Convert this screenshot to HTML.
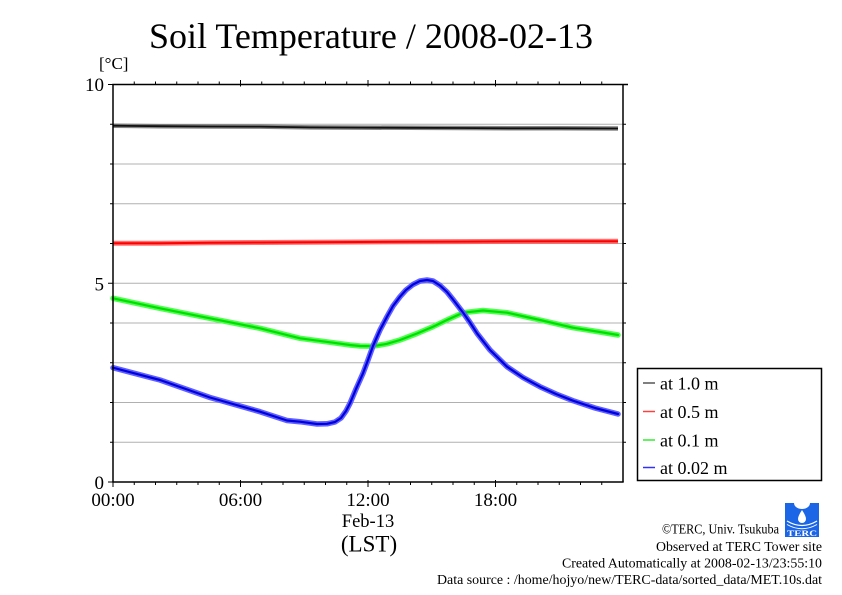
<!DOCTYPE html>
<html>
<head>
<meta charset="utf-8">
<style>
html,body{margin:0;padding:0;background:#fff;}
svg{display:block;}
text{font-family:"Liberation Serif","DejaVu Serif",serif;fill:#000;}
</style>
</head>
<body>
<svg width="842" height="595" viewBox="0 0 842 595" xmlns="http://www.w3.org/2000/svg">
<rect x="0" y="0" width="842" height="595" fill="#fff"/>

<!-- Title -->
<text x="149" y="48" font-size="36" textLength="444" lengthAdjust="spacingAndGlyphs">Soil Temperature / 2008-02-13</text>

<!-- unit -->
<text x="99" y="69" font-size="17">[°C]</text>

<!-- gridlines -->
<g stroke="#b0b0b0" stroke-width="1">
<line x1="113" y1="124.25" x2="623" y2="124.25"/>
<line x1="113" y1="164" x2="623" y2="164"/>
<line x1="113" y1="203.75" x2="623" y2="203.75"/>
<line x1="113" y1="243.5" x2="623" y2="243.5"/>
<line x1="113" y1="283.25" x2="623" y2="283.25"/>
<line x1="113" y1="323" x2="623" y2="323"/>
<line x1="113" y1="362.75" x2="623" y2="362.75"/>
<line x1="113" y1="402.5" x2="623" y2="402.5"/>
<line x1="113" y1="442.25" x2="623" y2="442.25"/>
</g>

<!-- series: 1.0 m -->
<polyline fill="none" stroke="#707070" stroke-width="4.5" stroke-linejoin="round" opacity="0.85"
 points="113,125.7 160,126.2 210,126.5 260,126.6 310,127.4 360,127.6 410,127.8 460,128 510,128.3 560,128.3 618,128.5"/>
<polyline fill="none" stroke="#111" stroke-width="1.8" stroke-linejoin="round"
 points="113,125.7 160,126.2 210,126.5 260,126.6 310,127.4 360,127.6 410,127.8 460,128 510,128.3 560,128.3 618,128.5"/>

<!-- series: 0.5 m -->
<polyline fill="none" stroke="#ff6060" stroke-width="5" stroke-linejoin="round" opacity="0.9"
 points="113,243.3 160,243.2 210,242.8 260,242.5 310,242.3 360,242 410,241.8 460,241.6 510,241.4 560,241.3 618,241.3"/>
<polyline fill="none" stroke="#ff0000" stroke-width="2" stroke-linejoin="round"
 points="113,243.3 160,243.2 210,242.8 260,242.5 310,242.3 360,242 410,241.8 460,241.6 510,241.4 560,241.3 618,241.3"/>

<!-- series: 0.1 m -->
<polyline fill="none" stroke="#50ff50" stroke-width="5.5" stroke-linejoin="round" stroke-linecap="round"
 points="113,298.3 160,308.3 210,318.3 260,328.3 300,338.3 333,342.7 350,345 360,346 373,346.2 387,343.8 400,340 417,333.5 433,326.7 448,319.5 463,312.7 483,310.5 507,312.7 540,320 573,327.7 600,332 618,335"/>
<polyline fill="none" stroke="#00dd00" stroke-width="2.2" stroke-linejoin="round" stroke-linecap="round"
 points="113,298.3 160,308.3 210,318.3 260,328.3 300,338.3 333,342.7 350,345 360,346 373,346.2 387,343.8 400,340 417,333.5 433,326.7 448,319.5 463,312.7 483,310.5 507,312.7 540,320 573,327.7 600,332 618,335"/>

<!-- series: 0.02 m -->
<polyline fill="none" stroke="#6060ff" stroke-width="5.5" stroke-linejoin="round" stroke-linecap="round"
 points="113,367.7 160,380 210,397.5 260,411.7 287,420.5 300,421.7 317,424 327,423.8 335,422 341,418 346,411 350,403.3 356,389 363,373.3 368,360 373,346 380,330 387,316.7 393,306 400,296.7 406,290 413,284.5 420,281 427,280 433,281 440,285.5 447,292 453,299.5 463,312.5 470,322.5 477,333.3 490,350 507,366.7 523,377.5 540,386.7 556,394 573,400.7 595,408 618,414"/>
<polyline fill="none" stroke="#0000dd" stroke-width="2.2" stroke-linejoin="round" stroke-linecap="round"
 points="113,367.7 160,380 210,397.5 260,411.7 287,420.5 300,421.7 317,424 327,423.8 335,422 341,418 346,411 350,403.3 356,389 363,373.3 368,360 373,346 380,330 387,316.7 393,306 400,296.7 406,290 413,284.5 420,281 427,280 433,281 440,285.5 447,292 453,299.5 463,312.5 470,322.5 477,333.3 490,350 507,366.7 523,377.5 540,386.7 556,394 573,400.7 595,408 618,414"/>

<!-- axes frame -->
<g stroke="#000" stroke-width="1.5" fill="none">
<line x1="113" y1="84.5" x2="113" y2="482"/>
<line x1="112.3" y1="482" x2="623.7" y2="482"/>
<line x1="112.3" y1="84.5" x2="628" y2="84.5"/>
<line x1="623" y1="84" x2="623" y2="482"/>
</g>

<!-- ticks -->
<g stroke="#000" stroke-width="1">
<!-- bottom -->
<line x1="113" y1="482" x2="113" y2="487"/>
<line x1="134.25" y1="482" x2="134.25" y2="485"/>
<line x1="155.5" y1="482" x2="155.5" y2="485"/>
<line x1="176.75" y1="482" x2="176.75" y2="485"/>
<line x1="198" y1="482" x2="198" y2="485"/>
<line x1="219.25" y1="482" x2="219.25" y2="485"/>
<line x1="240.5" y1="480" x2="240.5" y2="487"/>
<line x1="261.75" y1="482" x2="261.75" y2="485"/>
<line x1="283" y1="482" x2="283" y2="485"/>
<line x1="304.25" y1="482" x2="304.25" y2="485"/>
<line x1="325.5" y1="482" x2="325.5" y2="485"/>
<line x1="346.75" y1="482" x2="346.75" y2="485"/>
<line x1="368" y1="480" x2="368" y2="487"/>
<line x1="389.25" y1="482" x2="389.25" y2="485"/>
<line x1="410.5" y1="482" x2="410.5" y2="485"/>
<line x1="431.75" y1="482" x2="431.75" y2="485"/>
<line x1="453" y1="482" x2="453" y2="485"/>
<line x1="474.25" y1="482" x2="474.25" y2="485"/>
<line x1="495.5" y1="480" x2="495.5" y2="487"/>
<line x1="516.75" y1="482" x2="516.75" y2="485"/>
<line x1="538" y1="482" x2="538" y2="485"/>
<line x1="559.25" y1="482" x2="559.25" y2="485"/>
<line x1="580.5" y1="482" x2="580.5" y2="485"/>
<line x1="601.75" y1="482" x2="601.75" y2="485"/>
<!-- top -->
<line x1="134.25" y1="84.5" x2="134.25" y2="81.5"/>
<line x1="155.5" y1="84.5" x2="155.5" y2="81.5"/>
<line x1="176.75" y1="84.5" x2="176.75" y2="81.5"/>
<line x1="198" y1="84.5" x2="198" y2="81.5"/>
<line x1="219.25" y1="84.5" x2="219.25" y2="81.5"/>
<line x1="240.5" y1="86.5" x2="240.5" y2="80"/>
<line x1="261.75" y1="84.5" x2="261.75" y2="81.5"/>
<line x1="283" y1="84.5" x2="283" y2="81.5"/>
<line x1="304.25" y1="84.5" x2="304.25" y2="81.5"/>
<line x1="325.5" y1="84.5" x2="325.5" y2="81.5"/>
<line x1="346.75" y1="84.5" x2="346.75" y2="81.5"/>
<line x1="368" y1="86.5" x2="368" y2="80"/>
<line x1="389.25" y1="84.5" x2="389.25" y2="81.5"/>
<line x1="410.5" y1="84.5" x2="410.5" y2="81.5"/>
<line x1="431.75" y1="84.5" x2="431.75" y2="81.5"/>
<line x1="453" y1="84.5" x2="453" y2="81.5"/>
<line x1="474.25" y1="84.5" x2="474.25" y2="81.5"/>
<line x1="495.5" y1="86.5" x2="495.5" y2="80"/>
<line x1="516.75" y1="84.5" x2="516.75" y2="81.5"/>
<line x1="538" y1="84.5" x2="538" y2="81.5"/>
<line x1="559.25" y1="84.5" x2="559.25" y2="81.5"/>
<line x1="580.5" y1="84.5" x2="580.5" y2="81.5"/>
<line x1="601.75" y1="84.5" x2="601.75" y2="81.5"/>
<!-- left -->
<line x1="108" y1="84.5" x2="113" y2="84.5"/>
<line x1="110" y1="124.25" x2="113" y2="124.25"/>
<line x1="110" y1="164" x2="113" y2="164"/>
<line x1="110" y1="203.75" x2="113" y2="203.75"/>
<line x1="110" y1="243.5" x2="113" y2="243.5"/>
<line x1="108" y1="283.25" x2="113" y2="283.25"/>
<line x1="110" y1="323" x2="113" y2="323"/>
<line x1="110" y1="362.75" x2="113" y2="362.75"/>
<line x1="110" y1="402.5" x2="113" y2="402.5"/>
<line x1="110" y1="442.25" x2="113" y2="442.25"/>
<line x1="108" y1="482" x2="113" y2="482"/>
<!-- right -->
<line x1="623" y1="124.25" x2="626" y2="124.25"/>
<line x1="623" y1="164" x2="626" y2="164"/>
<line x1="623" y1="203.75" x2="626" y2="203.75"/>
<line x1="623" y1="243.5" x2="626" y2="243.5"/>
<line x1="623" y1="283.25" x2="627" y2="283.25"/>
<line x1="623" y1="323" x2="626" y2="323"/>
<line x1="623" y1="362.75" x2="626" y2="362.75"/>
<line x1="623" y1="402.5" x2="626" y2="402.5"/>
<line x1="623" y1="442.25" x2="626" y2="442.25"/>
</g>

<!-- y labels -->
<text x="104" y="91" font-size="19" text-anchor="end">10</text>
<text x="104" y="290.5" font-size="19" text-anchor="end">5</text>
<text x="104" y="489" font-size="19" text-anchor="end">0</text>

<!-- x labels -->
<text x="113" y="506" font-size="19" text-anchor="middle">00:00</text>
<text x="240.5" y="506" font-size="19" text-anchor="middle">06:00</text>
<text x="368" y="506" font-size="19" text-anchor="middle">12:00</text>
<text x="495.5" y="506" font-size="19" text-anchor="middle">18:00</text>
<text x="368" y="527" font-size="18.5" text-anchor="middle">Feb-13</text>
<text x="369" y="551.5" font-size="23" text-anchor="middle">(LST)</text>

<!-- legend -->
<rect x="637.5" y="368.5" width="184" height="112" fill="#fff" stroke="#000" stroke-width="1.5"/>
<g stroke-width="1.5">
<line x1="643" y1="383" x2="655" y2="383" stroke="#555"/>
<line x1="643" y1="411.5" x2="655" y2="411.5" stroke="#ff4040"/>
<line x1="643" y1="440" x2="655" y2="440" stroke="#30ee30"/>
<line x1="643" y1="467.5" x2="655" y2="467.5" stroke="#3030ff"/>
</g>
<text x="660" y="389.5" font-size="18">at 1.0 m</text>
<text x="660" y="418" font-size="18">at 0.5 m</text>
<text x="660" y="446.5" font-size="18">at 0.1 m</text>
<text x="660" y="474" font-size="18">at 0.02 m</text>

<!-- credits -->
<text x="662" y="533.5" font-size="13.5" textLength="117" lengthAdjust="spacingAndGlyphs">©TERC, Univ. Tsukuba</text>
<text x="822" y="551" font-size="13.5" text-anchor="end" textLength="166" lengthAdjust="spacingAndGlyphs">Observed at TERC Tower site</text>
<text x="822" y="567.5" font-size="13.5" text-anchor="end" textLength="260" lengthAdjust="spacingAndGlyphs">Created Automatically at 2008-02-13/23:55:10</text>
<text x="822" y="584" font-size="13.5" text-anchor="end" textLength="385" lengthAdjust="spacingAndGlyphs">Data source : /home/hojyo/new/TERC-data/sorted_data/MET.10s.dat</text>

<!-- TERC logo -->
<g>
<rect x="785" y="503" width="34" height="34" fill="#1a66e6"/>
<path d="M794,503 A8,6 0 0 0 810,503 Z" fill="#fff"/>
<path d="M802,510 Q798,516 798,519 A4,4 0 0 0 806,519 Q806,516 802,510 Z" fill="#fff"/>
<path d="M787,521 Q802,530 817,521" fill="none" stroke="#fff" stroke-width="1.2"/>
<path d="M787,524.5 Q802,533 817,524.5" fill="none" stroke="#fff" stroke-width="1"/>
<text x="802" y="536" font-size="8" font-family="Liberation Sans, sans-serif" text-anchor="middle" style="fill:#fff" font-weight="bold" textLength="30" lengthAdjust="spacingAndGlyphs">TERC</text>
</g>
</svg>
</body>
</html>
